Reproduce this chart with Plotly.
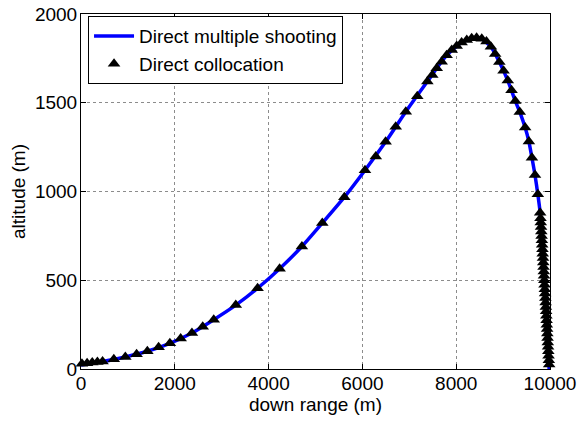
import plotly.graph_objects as go

# Direct collocation nodes (down range m, altitude m)
colloc_x = [20, 130, 240, 350, 460, 700, 945, 1185, 1415, 1655, 1895, 2125, 2365, 2595, 2830,
            3300, 3765, 4235, 4710, 5145, 5615, 6055, 6285, 6495, 6710, 6925, 7170, 7385, 7490,
            7585, 7690, 7795, 7905, 8010, 8115, 8225, 8330, 8435, 8545, 8645, 8740, 8830, 8920,
            9010, 9100, 9180, 9260, 9355, 9470, 9550, 9615, 9680, 9740, 9790,
            9797, 9803, 9809, 9815, 9821, 9827, 9833, 9839, 9845, 9851, 9857, 9862, 9868, 9873,
            9879, 9884, 9890, 9895, 9901, 9906, 9911, 9917, 9922, 9927, 9932, 9938, 9943, 9948,
            9953, 9959, 9964, 9969, 9975, 9982]
colloc_y = [30, 33, 36, 39, 42, 55, 68, 83, 100, 122, 145, 172, 203, 238, 278,
            360, 455, 565, 690, 822, 968, 1120, 1197, 1280, 1365, 1450, 1537, 1620, 1656,
            1694, 1731, 1767, 1797, 1820, 1839, 1854, 1863, 1866, 1860, 1845, 1815, 1775, 1730,
            1680, 1625, 1570, 1510, 1448, 1360, 1281, 1190, 1093, 985, 880,
            850, 825, 800, 775, 750, 725, 700, 675, 650, 625, 600, 575, 550, 525,
            500, 475, 450, 425, 400, 375, 350, 325, 300, 275, 250, 225, 200, 175,
            150, 125, 100, 75, 50, 25, 0]

# Direct multiple shooting trajectory
shoot_x = [0, 460, 945, 1415, 1895, 2365, 2830, 3300, 3765, 4235, 4710, 5145, 5615, 6055,
           6495, 6925, 7385, 7795, 8115, 8330, 8435, 8545, 8740, 8920, 9100, 9260, 9355, 9470,
           9550, 9615, 9680, 9740, 9790, 9845, 9895, 9938, 9982]
shoot_y = [22, 42, 68, 100, 145, 203, 278, 360, 455, 565, 690, 822, 968, 1120,
           1280, 1450, 1620, 1767, 1839, 1863, 1866, 1860, 1815, 1730, 1625, 1510, 1448, 1360,
           1281, 1190, 1093, 985, 880, 625, 400, 200, 0]

x_ticks = [0, 2000, 4000, 6000, 8000, 10000]
y_ticks = [0, 500, 1000, 1500, 2000]

FONT = "Arial, Liberation Sans, sans-serif"
FS = 19

fig = go.Figure()
fig.add_trace(go.Scatter(
    x=shoot_x, y=shoot_y, mode="lines", name="Direct multiple shooting",
    line=dict(color="#0000ff", width=3.5, shape="spline", smoothing=0.6),
    cliponaxis=False,
))
fig.add_trace(go.Scatter(
    x=colloc_x, y=colloc_y, mode="markers", name="Direct collocation",
    marker=dict(symbol="triangle-up", color="black", size=11, line=dict(width=0)),
    cliponaxis=False,
))

axis_common = dict(
    showgrid=True, gridcolor="#8c8c8c", griddash="dot", gridwidth=1,
    showline=True, linecolor="black", linewidth=1, mirror="allticks",
    ticks="inside", ticklen=5, tickcolor="black", zeroline=False,
    tickfont=dict(family=FONT, size=FS, color="black"),
    automargin=False, ticklabeloverflow="allow",
)

fig.update_xaxes(range=[0, 10000], tickvals=x_ticks, ticktext=[str(v) for v in x_ticks],
                 title=dict(text="down range (m)", font=dict(family=FONT, size=FS, color="black"),
                            standoff=0),
                 ticklabelstandoff=-3,
                 **axis_common)
fig.update_yaxes(range=[0, 2000], tickvals=y_ticks, ticktext=[str(v) for v in y_ticks],
                 title=dict(text="altitude (m)", font=dict(family=FONT, size=FS, color="black"),
                            standoff=4),
                 ticklabelstandoff=-1,
                 **axis_common)

fig.update_layout(
    width=579, height=421,
    margin=dict(l=81, r=29, t=14, b=52),
    paper_bgcolor="white", plot_bgcolor="white",
    font=dict(family=FONT, size=FS, color="black"),
    showlegend=True,
    legend=dict(x=0.015, y=0.994, xanchor="left", yanchor="top",
                bgcolor="white", bordercolor="black", borderwidth=1,
                font=dict(family=FONT, size=FS, color="black"),
                tracegroupgap=0, itemwidth=40),
)

fig.write_html("out.html", config={"displayModeBar": False},
               post_script="document.body.style.margin='0px';")
